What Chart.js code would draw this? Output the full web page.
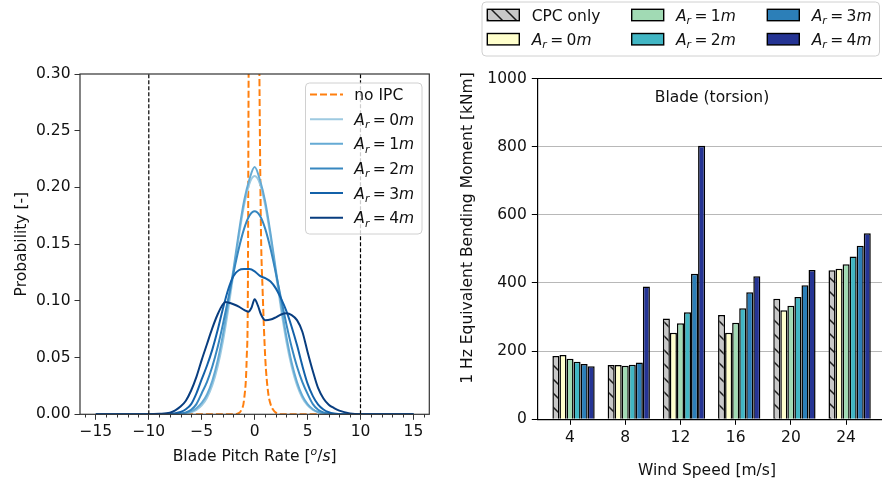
<!DOCTYPE html>
<html>
<head>
<meta charset="utf-8">
<script src="https://cdn.jsdelivr.net/npm/chart.js@4.4.0/dist/chart.umd.min.js"></script>
<style>
  html, body { margin: 0; padding: 0; background: #fff; overflow: hidden; }
  #wrap { position: relative; width: 882px; height: 487px; }
  #left { position: absolute; left: 0; top: 0; }
  #right { position: absolute; left: 440px; top: 0; }
</style>
</head>
<body>
<div id="wrap">
  <canvas id="left" width="440" height="487"></canvas>
  <canvas id="right" width="442" height="487"></canvas>
</div>
<script>
// ---- left panel: pitch rate distributions ----
const rateX = [-15,-10,-9,-8,-7.5,-7,-6.5,-6,-5.5,-5,-4.5,-4,-3.5,-3,-2.5,-2,-1.5,-1,-0.5,0,0.5,1,1.5,2,2.5,3,3.5,4,4.5,5,5.5,6,6.5,7,7.5,8,9,10,15];
const probAr0 = [0,0,0,0,0.0001,0.0003,0.0008,0.0018,0.0039,0.0078,0.0146,0.0256,0.0419,0.0641,0.0923,0.1241,0.1563,0.1842,0.2032,0.210,0.2032,0.1842,0.1563,0.1241,0.0923,0.0641,0.0419,0.0256,0.0146,0.0078,0.0039,0.0018,0.0008,0.0003,0.0001,0,0,0,0];
const probAr1 = [0,0,0,0.0001,0.0002,0.0005,0.0012,0.0027,0.0054,0.0100,0.0175,0.0295,0.0470,0.0700,0.0980,0.1280,0.1600,0.1880,0.2070,0.218,0.2065,0.1875,0.1595,0.1275,0.0965,0.0685,0.0455,0.0285,0.0165,0.0090,0.0045,0.0020,0.0009,0.0004,0.0001,0,0,0,0];
const probAr2 = [0,0,0,0.0001,0.0002,0.0006,0.0016,0.004,0.009,0.0186,0.0286,0.0421,0.0591,0.0793,0.1017,0.1247,0.146,0.1635,0.175,0.179,0.175,0.1635,0.146,0.1247,0.1017,0.0793,0.0591,0.0421,0.0286,0.0180,0.009,0.004,0.0016,0.0006,0.0002,0.0001,0,0,0];
const probAr3 = [0,0,0.0001,0.0005,0.0009,0.002,0.0045,0.009,0.0185,0.031,0.043,0.057,0.074,0.093,0.110,0.122,0.127,0.128,0.128,0.126,0.122,0.120,0.117,0.111,0.102,0.091,0.077,0.061,0.043,0.027,0.016,0.0085,0.0042,0.0018,0.0007,0.0003,0,0,0];
const ar4X = [-15,-10,-9,-8,-7.5,-7,-6.5,-6,-5.5,-5,-4.5,-4,-3.5,-3,-2.75,-2.5,-2,-1.5,-1,-0.6,-0.3,0,0.3,0.6,1,1.5,2,2.5,3,3.5,4,4.5,5,5.5,6,6.5,7,7.5,8,9,10,15];
const probAr4 = [0,0,0.0004,0.0015,0.0035,0.0068,0.012,0.021,0.033,0.048,0.062,0.076,0.088,0.097,0.099,0.0985,0.097,0.095,0.092,0.0905,0.094,0.1015,0.096,0.088,0.083,0.0835,0.0855,0.088,0.089,0.0875,0.083,0.073,0.055,0.038,0.023,0.014,0.0085,0.0055,0.0032,0.0008,0.0001,0];
const noIpcX = [-15,-2,-1.5,-1.25,-1,-0.75,-0.64,-0.57,-0.4,-0.1,0.2,0.45,0.6,0.75,1,1.25,1.5,1.75,2,2.5,15];
const probNoIpc = [0,0,0.001,0.004,0.013,0.05,0.11,0.3,0.6,0.9,0.7,0.3,0.16,0.11,0.05,0.021,0.009,0.004,0.0015,0,0];
const rateLimits = [-10, 10];
const rateTicks = [-15,-10,-5,0,5,10,15];
const probTicks = [0,0.05,0.1,0.15,0.2,0.25,0.3];

// ---- right panel: equivalent bending moment ----
const windSpeeds = [4,8,12,16,20,24];
const cpcOnly = [186,159,296,306,354,437];
const momAr0 = [189,159,254,254,320,442];
const momAr1 = [178,157,282,283,333,455];
const momAr2 = [169,160,314,326,359,478];
const momAr3 = [162,167,427,373,393,509];
const momAr4 = [156,390,803,420,438,546];
const momentTicks = [0,200,400,600,800,1000];

const arLabels = ['0', '1', '2', '3', '4'];
const lineBlues = ['#9ecae1', '#65aad4', '#3787c0', '#1361a9', '#083d7f'];
const barFills = ['#c8c8c8', '#ffffcc', '#a1dab4', '#41b6c4', '#2c7fb8', '#253494'];

const SZ = 15.5;
const FAM = '"DejaVu Sans"';
Chart.defaults.font.family = FAM;
Chart.defaults.font.size = SZ;
Chart.defaults.color = '#111';

const pts = (xs, ys) => xs.map((x, i) => ({ x: x, y: ys[i] }));

// tiny mathtext-like writer: parts are [text, style]
function fontFor(style, size) {
  return (style.indexOf('i') >= 0 ? 'italic ' : '') + size + 'px ' + FAM;
}
function partSize(s) { return (s === 'ri' || s === 'si') ? SZ * 0.7 : SZ; }
function measureMath(ctx, parts) {
  let w = 0;
  for (const [t, s] of parts) {
    ctx.font = fontFor(s, partSize(s));
    w += ctx.measureText(t).width + (s === 'eq' ? 0.44 * SZ : 0);
  }
  return w;
}
function drawMath(ctx, parts, x, yc, align) {
  const w = measureMath(ctx, parts);
  let cx = align === 'center' ? x - w / 2 : x;
  const base = yc + SZ * 0.36;
  ctx.textAlign = 'left';
  ctx.textBaseline = 'alphabetic';
  for (const [t, s] of parts) {
    ctx.font = fontFor(s, partSize(s));
    let dy = 0;
    if (s === 'ri') dy = SZ * 0.22;
    if (s === 'si') dy = -SZ * 0.42;
    if (s === 'eq') cx += 0.22 * SZ;
    ctx.fillText(t, cx, base + dy);
    cx += ctx.measureText(t).width;
    if (s === 'eq') cx += 0.22 * SZ;
  }
}
const arParts = n => [['A', 'i'], ['r', 'ri'], ['=', 'eq'], [n, ''], ['m', 'i']];

function legendFrame(ctx, x0, y0, x1, y1) {
  ctx.save();
  ctx.beginPath();
  ctx.roundRect(x0 + 0.5, y0 + 0.5, x1 - x0, y1 - y0, 4);
  ctx.fillStyle = 'rgba(255,255,255,0.8)';
  ctx.fill();
  ctx.strokeStyle = '#d0d0d0';
  ctx.lineWidth = 1;
  ctx.stroke();
  ctx.restore();
}

const leftDeco = {
  id: 'leftDeco',
  afterDraw(chart) {
    const { ctx, chartArea: a } = chart;
    const xs = chart.scales.x;
    ctx.save();
    // spines
    ctx.strokeStyle = '#333';
    ctx.lineWidth = 1.2;
    ctx.strokeRect(a.left, a.top, a.right - a.left, a.bottom - a.top);
    // minor ticks
    ctx.lineWidth = 1;
    for (let v = -16; v <= 16; v++) {
      if (v % 5 === 0) continue;
      const px = Math.round(xs.getPixelForValue(v)) + 0.5;
      ctx.beginPath();
      ctx.moveTo(px, a.bottom);
      ctx.lineTo(px, a.bottom + 3.2);
      ctx.stroke();
    }
    ctx.fillStyle = '#111';
    // axis titles
    drawMath(ctx, [['Blade Pitch Rate [', ''], ['o', 'si'], ['/', ''], ['s', 'i'], [']', '']], (a.left + a.right) / 2, 455.5, 'center');
    ctx.save();
    ctx.translate(20, (a.top + a.bottom) / 2);
    ctx.rotate(-Math.PI / 2);
    drawMath(ctx, [['Probability [-]', '']], 0, 0, 'center');
    ctx.restore();
    // legend
    legendFrame(ctx, 305, 82.5, 421.5, 233.5);
    const rows = [['no IPC', '#ff7f0e', true, [['no IPC', '']]]];
    arLabels.forEach((n, i) => rows.push([n, lineBlues[i], false, arParts(n)]));
    rows.forEach((r, i) => {
      const yc = 94.5 + i * 24.65;
      ctx.beginPath();
      ctx.strokeStyle = r[1];
      ctx.lineWidth = 2;
      ctx.setLineDash(r[2] ? [7, 3] : []);
      ctx.moveTo(310, yc);
      ctx.lineTo(343, yc);
      ctx.stroke();
      ctx.setLineDash([]);
      ctx.fillStyle = '#111';
      drawMath(ctx, r[3], 354.3, yc, 'left');
    });
    ctx.restore();
  }
};

const leftDatasets = [
  { label: 'no IPC', data: pts(noIpcX, probNoIpc), borderColor: '#ff7f0e', borderDash: [7, 3], borderWidth: 2, order: 10 },
  { label: 'Ar0', data: pts(rateX, probAr0), borderColor: lineBlues[0], borderWidth: 2, order: 6 },
  { label: 'Ar1', data: pts(rateX, probAr1), borderColor: lineBlues[1], borderWidth: 2, order: 5 },
  { label: 'Ar2', data: pts(rateX, probAr2), borderColor: lineBlues[2], borderWidth: 2, order: 4 },
  { label: 'Ar3', data: pts(rateX, probAr3), borderColor: lineBlues[3], borderWidth: 2, order: 3 },
  { label: 'Ar4', data: pts(ar4X, probAr4), borderColor: lineBlues[4], borderWidth: 2, order: 2 }
];
rateLimits.forEach(v => leftDatasets.push({
  label: 'limit', data: [{ x: v, y: 0 }, { x: v, y: 0.3 }],
  borderColor: '#000', borderWidth: 1.2, borderDash: [4, 2], order: 1, cubicInterpolationMode: 'default', tension: 0
}));

new Chart(document.getElementById('left'), {
  type: 'line',
  data: { datasets: leftDatasets },
  options: {
    responsive: false,
    animation: false,
    layout: { padding: { top: 74, right: 10.7, bottom: 0, left: 0 } },
    plugins: { legend: { display: false }, tooltip: { enabled: false } },
    elements: { point: { radius: 0 }, line: { cubicInterpolationMode: 'monotone', fill: false } },
    scales: {
      x: {
        type: 'linear', min: -16.5, max: 16.5,
        afterBuildTicks: s => { s.ticks = rateTicks.map(v => ({ value: v })); },
        afterFit: s => { s.height = 72.7; },
        grid: { drawOnChartArea: false, tickLength: 5.5, color: '#333' },
        border: { display: false },
        ticks: { padding: 3, color: '#111', maxRotation: 0, autoSkip: false, callback: v => String(v).replace('-', '\u2212') }
      },
      y: {
        min: 0, max: 0.3,
        afterBuildTicks: s => { s.ticks = probTicks.map(v => ({ value: v })); },
        afterFit: s => { s.width = 80; },
        grid: { drawOnChartArea: false, tickLength: 5.5, color: '#333' },
        border: { display: false },
        ticks: { padding: 4, color: '#111', callback: v => v.toFixed(2) }
      }
    }
  },
  plugins: [leftDeco]
});

// ---- right panel ----
const rightCanvas = document.getElementById('right');
const rctx = rightCanvas.getContext('2d');
function makeHatch() {
  const n = 14;
  const c = document.createElement('canvas');
  c.width = n; c.height = n;
  const g = c.getContext('2d');
  g.fillStyle = barFills[0];
  g.fillRect(0, 0, n, n);
  g.strokeStyle = '#1a1a1a';
  g.lineWidth = 1.5;
  g.beginPath();
  g.moveTo(-2, -2); g.lineTo(n + 2, n + 2);
  g.moveTo(-2, n - 2); g.lineTo(2, n + 2);
  g.moveTo(n - 2, -2); g.lineTo(n + 2, 2);
  g.stroke();
  return rctx.createPattern(c, 'repeat');
}
const hatch = makeHatch();

const barSeries = [cpcOnly, momAr0, momAr1, momAr2, momAr3, momAr4];
const barNames = ['CPC only', 'Ar0', 'Ar1', 'Ar2', 'Ar3', 'Ar4'];
// matplotlib placed the 6 bars at x + (i-2)*w, so the group sits half a bar right of the tick
const groupFrac = 0.766;
const groupShift = 4 * groupFrac / barSeries.length / 2;

const rightDeco = {
  id: 'rightDeco',
  afterDraw(chart) {
    const { ctx, chartArea: a } = chart;
    ctx.save();
    ctx.strokeStyle = '#000';
    ctx.lineWidth = 1.2;
    ctx.beginPath();
    ctx.moveTo(a.left, a.top);
    ctx.lineTo(a.right, a.top);
    ctx.stroke();
    ctx.fillStyle = '#111';
    drawMath(ctx, [['Blade (torsion)', '']], 272, 96, 'center');
    drawMath(ctx, [['Wind Speed [m/s]', '']], 267, 469, 'center');
    ctx.save();
    ctx.translate(26, 228);
    ctx.rotate(-Math.PI / 2);
    drawMath(ctx, [['1 Hz Equivalent Bending Moment [kNm]', '']], 0, 0, 'center');
    ctx.restore();
    // legend, 3 columns filled top to bottom
    legendFrame(ctx, 41.5, 1.5, 439, 55.5);
    const colX = [47.3, 191.7, 327.3];
    const txtX = [91.7, 236, 371.7];
    const rowY = [15, 39.2];
    barNames.forEach((name, i) => {
      const col = Math.floor(i / 2), row = i % 2;
      const yc = rowY[row];
      ctx.fillStyle = i === 0 ? hatch : barFills[i];
      ctx.fillRect(colX[col], yc - 5.7, 32, 11.4);
      ctx.strokeStyle = '#000';
      ctx.lineWidth = 1.4;
      ctx.strokeRect(colX[col], yc - 5.7, 32, 11.4);
      ctx.fillStyle = '#111';
      const parts = i === 0 ? [[name, '']] : arParts(arLabels[i - 1]);
      drawMath(ctx, parts, txtX[col], yc, 'left');
    });
    ctx.restore();
  }
};

new Chart(rightCanvas, {
  type: 'bar',
  data: {
    datasets: barSeries.map((vals, i) => ({
      label: barNames[i],
      data: pts(windSpeeds.map(v => v + groupShift), vals),
      backgroundColor: i === 0 ? hatch : barFills[i],
      borderColor: '#000',
      borderWidth: 1.5,
      categoryPercentage: groupFrac,
      barPercentage: 1
    }))
  },
  options: {
    responsive: false,
    animation: false,
    layout: { padding: { top: 78.5, right: 0, bottom: 0, left: 0 } },
    plugins: { legend: { display: false }, tooltip: { enabled: false } },
    scales: {
      x: {
        type: 'linear', min: 1.63, max: 26.6, offset: false,
        afterBuildTicks: s => { s.ticks = windSpeeds.map(v => ({ value: v })); },
        afterFit: s => { s.height = 67.7; },
        grid: { offset: false, drawOnChartArea: false, tickLength: 5.5, color: '#000' },
        border: { color: '#000', width: 1.2 },
        ticks: { padding: 4, color: '#111', maxRotation: 0, autoSkip: false, callback: v => String(v) }
      },
      y: {
        min: 0, max: 1000,
        afterBuildTicks: s => { s.ticks = momentTicks.map(v => ({ value: v })); },
        afterFit: s => { s.width = 97.3; },
        grid: {
          color: c => (c.tick && (c.tick.value === 0 || c.tick.value === 1000)) ? 'rgba(0,0,0,0)' : '#b8b8b8',
          tickColor: '#000', tickLength: 5.5, lineWidth: 1
        },
        border: { color: '#000', width: 1.2 },
        ticks: { padding: 5, color: '#111', callback: v => String(v) }
      }
    }
  },
  plugins: [rightDeco]
});
</script>
</body>
</html>
